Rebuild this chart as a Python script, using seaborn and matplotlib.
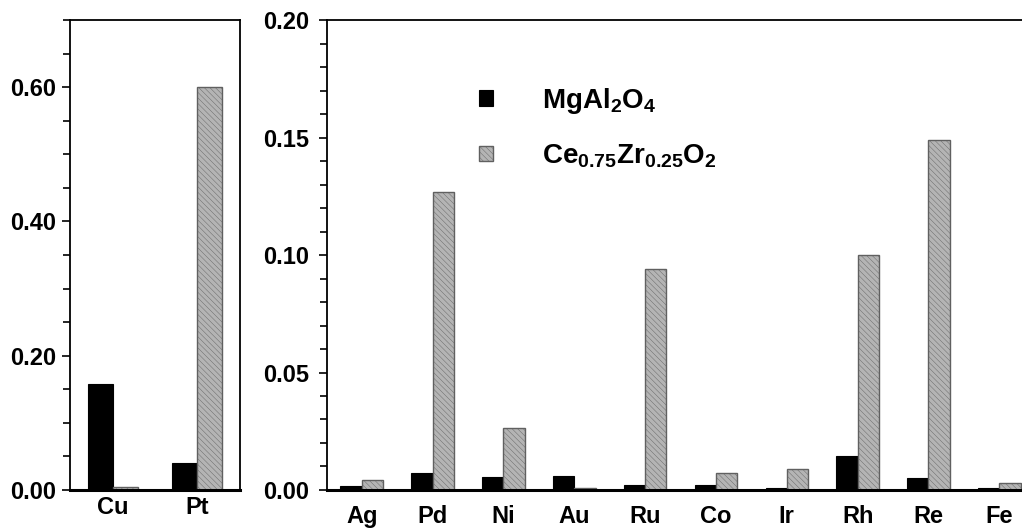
import numpy as np
import pandas as pd
import seaborn as sns
import matplotlib.pyplot as plt
from matplotlib.ticker import MultipleLocator, FormatStrFormatter

# data
metals_left = ['Cu', 'Pt']
mgal_left = [0.158, 0.040]
cezr_left = [0.005, 0.600]

metals_right = ['Ag', 'Pd', 'Ni', 'Au', 'Ru', 'Co', 'Ir', 'Rh', 'Re', 'Fe']
mgal_right = [0.0015, 0.0073, 0.0055, 0.0060, 0.0020, 0.0020, 0.0010, 0.0143, 0.0050, 0.0010]
cezr_right = [0.0042, 0.1270, 0.0265, 0.0010, 0.0940, 0.0072, 0.0090, 0.1000, 0.1490, 0.0030]

supports = ['MgAl2O4', 'CeZrO2']
support_labels = [r'$\mathbf{MgAl_2O_4}$', r'$\mathbf{Ce_{0.75}Zr_{0.25}O_2}$']

sns.set_style('white')
plt.rcParams['font.family'] = ['Liberation Sans', 'DejaVu Sans']
plt.rcParams['font.weight'] = 'bold'
plt.rcParams['mathtext.fontset'] = 'custom'
plt.rcParams['mathtext.bf'] = 'Liberation Sans:bold'
plt.rcParams['mathtext.rm'] = 'Liberation Sans'
plt.rcParams['hatch.linewidth'] = 0.3
plt.rcParams['text.color'] = 'black'
plt.rcParams['xtick.color'] = 'black'
plt.rcParams['ytick.color'] = 'black'


def make_frame(metals, mgal, cezr):
    return pd.DataFrame({
        'metal': metals * 2,
        'value': mgal + cezr,
        'support': [supports[0]] * len(metals) + [supports[1]] * len(metals),
    })


def draw_panel(ax, df):
    sns.barplot(data=df, x='metal', y='value', hue='support', hue_order=supports,
                palette=['black', '#b4b4b4'], width=0.6, ax=ax, legend=False)
    for bar in ax.containers[0]:
        bar.set_edgecolor('black')
        bar.set_linewidth(0.8)
    for bar in ax.containers[1]:
        bar.set_edgecolor('#606060')
        bar.set_linewidth(1.0)
        bar.set_hatch('\\\\\\\\\\\\')
    ax.set_xlabel('')
    ax.set_ylabel('')
    ax.tick_params(axis='x', length=0, labelsize=17, labelcolor='black')
    ax.tick_params(axis='y', which='major', direction='out', left=True, length=6,
                   width=1.2, labelsize=17, pad=4, labelcolor='black')
    ax.tick_params(axis='y', which='minor', direction='out', left=True, length=5, width=1.2)
    for s in ax.spines.values():
        s.set_linewidth(1.3)
        s.set_color('black')
    ax.spines['bottom'].set_linewidth(2.2)


fig = plt.figure(figsize=(10.22, 5.28), dpi=100)
ax1 = fig.add_axes([0.0685, 0.072, 0.1663, 0.890])
ax2 = fig.add_axes([0.320, 0.072, 0.680, 0.890])

draw_panel(ax1, make_frame(metals_left, mgal_left, cezr_left))
ax1.set_ylim(0, 0.70)
ax1.set_xlim(-0.51, 1.51)
ax1.yaxis.set_major_locator(MultipleLocator(0.20))
ax1.yaxis.set_minor_locator(MultipleLocator(0.05))
ax1.yaxis.set_major_formatter(FormatStrFormatter('%.2f'))
ax1.tick_params(axis='x', pad=4)

draw_panel(ax2, make_frame(metals_right, mgal_right, cezr_right))
ax2.set_ylim(0, 0.20)
ax2.set_xlim(-0.49, 9.32)
ax2.yaxis.set_major_locator(MultipleLocator(0.05))
ax2.yaxis.set_minor_locator(MultipleLocator(0.01))
ax2.yaxis.set_major_formatter(FormatStrFormatter('%.2f'))
ax2.tick_params(axis='y', which='major', pad=7)
ax2.tick_params(axis='x', pad=10.5)
ax2.spines['right'].set_visible(False)

handles = [ax2.containers[0][0], ax2.containers[1][0]]
ax2.legend(handles, support_labels, loc='upper left', bbox_to_anchor=(0.183, 0.913),
           frameon=False, fontsize=20, handlelength=0.5, handleheight=0.5,
           handletextpad=1.75, labelspacing=0.95)

fig.savefig('out.png', dpi=100)
